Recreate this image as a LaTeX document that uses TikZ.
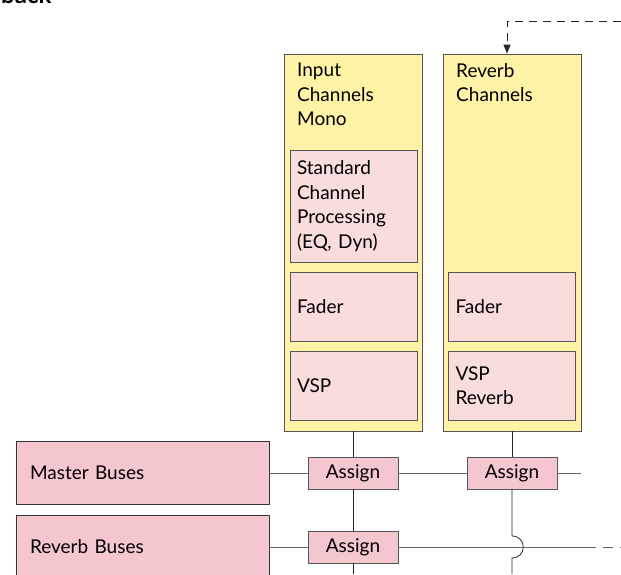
\documentclass[tikz,border=0pt]{standalone}
\usepackage{fontspec}
\setmainfont{Lato}
\usetikzlibrary{arrows.meta}

\definecolor{chanyellow}{HTML}{FFF3A8}
\definecolor{procpink}{HTML}{F9DCDC}
\definecolor{buspink}{HTML}{F4C6CD}
\definecolor{edgegray}{HTML}{555555}
\definecolor{wiregray}{HTML}{666666}
\newcommand{\chanfont}{\fontsize{19}{24.5}\selectfont}

\begin{document}
\begin{tikzpicture}[x=1pt, y=-1pt,
		chan/.style={rectangle, draw=edgegray, fill=chanyellow, line width=0.8pt, minimum width=138pt, minimum height=377pt, inner sep=0pt},
		title/.style={anchor=north west, inner sep=0pt, align=left, font=\chanfont},
		proc/.style={rectangle, draw=edgegray, fill=procpink, line width=0.8pt, text width=113pt, inner xsep=7pt, minimum height=69pt, align=left, font=\chanfont},
		bus/.style={rectangle, draw=black!80, fill=buspink, line width=0.8pt, text width=225pt, inner xsep=14pt, minimum height=63pt, align=left, font=\chanfont},
		assign/.style={rectangle, draw=edgegray, fill=buspink, line width=0.8pt, minimum width=90pt, minimum height=32pt, inner sep=0pt, font=\chanfont},
		wire/.style={draw=wiregray, line width=0.8pt},
		vwire/.style={draw=black!85, line width=0.8pt},
		fb/.style={draw=black!85, line width=0.8pt, dash pattern=on 8pt off 6pt, -{Triangle[length=9pt, width=7pt]}}
		]
		
		\useasboundingbox (0,0) rectangle (621,574);
		
		\node[anchor=base west, inner sep=0pt, font=\fontsize{24}{28}\selectfont\bfseries] (backlbl) at (1,3) {back};
		
		\node[chan] (inmono) at (353,242.5) {};
		\node[chan] (revch) at (512,242.5) {};
		\node[title] (inmonot) at (297,63) {Input\\Channels\\Mono};
		\node[title] (revcht) at (456,63) {Reverb\\Channels};
		
		\node[proc, minimum height=112pt] (stdproc) at (353.5,206) {Standard\\Channel\\Processing\\(EQ, Dyn)};
		\node[proc] (fadein) at (353.5,306.5) {Fader};
		\node[proc] (vspin) at (353.5,385.5) {VSP};
		\node[proc] (faderev) at (512,306.5) {Fader};
		\node[proc] (vsprev) at (512,385.5) {VSP\\Reverb};
		
		\node[bus] (master) at (142.5,473) {Master Buses};
		\node[bus] (revbus) at (142.5,547) {Reverb Buses};
		
		\node[assign] (asgmi) at (353,473) {Assign};
		\node[assign] (asgmr) at (512,473) {Assign};
		\node[assign] (asgri) at (353,547) {Assign};
		
		\coordinate (inbot) at (353,574);
		\coordinate (hoptop) at (512,536);
		\coordinate (hopbot) at (512,558);
		\coordinate (revbot) at (512,574);
		\coordinate (mastout) at (581,473);
		\coordinate (revout) at (586,547);
		\coordinate (revend) at (621,547);
		\coordinate (fbin) at (621,21);
		
		% channel strips down to the assign points
		\draw[vwire] (inmono.south) -- (asgmi.north);
		\draw[vwire] (asgmi.south) -- (asgri.north);
		\draw[vwire] (asgri.south) -- (inbot);
		\draw[vwire] (revch.south) -- (asgmr.north);
		\draw[vwire] (asgmr.south) -- (hoptop) .. controls (527,536) and (527,558) .. (hopbot) -- (revbot);
		
		% buses
		\draw[wire] (master.east) -- (asgmi.west);
		\draw[wire] (asgmi.east) -- (asgmr.west);
		\draw[wire] (asgmr.east) -- (mastout);
		\draw[wire] (revbus.east) -- (asgri.west);
		\draw[wire] (asgri.east) -- (revout);
		\draw[wire, dash pattern=on 10pt off 7pt] (revout) -- (revend);
		
		% reverb return
		\draw[fb] (fbin) -| ([xshift=-5pt]revch.north);
		
	\end{tikzpicture}
\end{document}
